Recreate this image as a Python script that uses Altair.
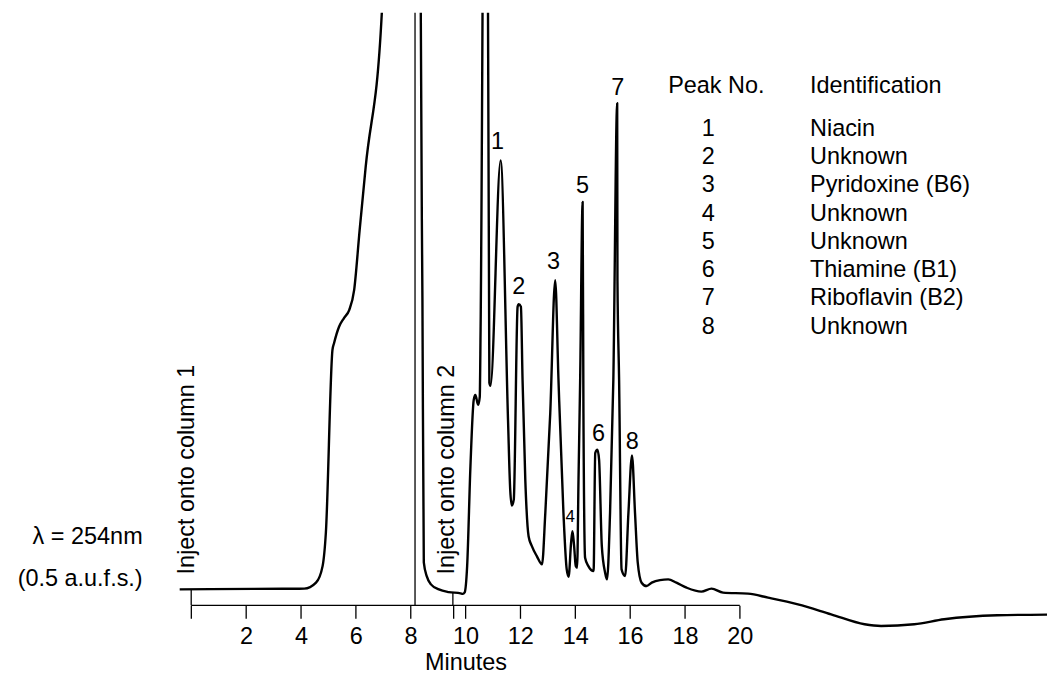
import altair as alt
import pandas as pd

# ---------------- data ----------------
# retention time (minutes) and detector response (arbitrary units, baseline = 0)
time_min = [-0.42, 2.30, 4.12, 4.55, 4.79, 4.91, 5.15, 5.21, 5.39, 5.57, 5.76, 5.94, 6.14, 6.36,
            6.95, 7.60, 8.30, 8.37, 8.43, 8.48, 8.59, 8.74, 9.03, 9.39, 9.82, 9.90, 9.97,
            10.06, 10.18, 10.30, 10.36, 10.46, 10.52, 10.55, 10.75, 10.87, 10.91,
            11.28, 11.55, 11.63, 11.69, 11.76, 11.90, 11.94, 12.02, 12.08, 12.18, 12.30,
            12.42, 12.60, 12.79, 12.91, 13.09, 13.27, 13.39, 13.57, 13.69, 13.76, 13.85,
            13.90, 13.96, 14.02, 14.07, 14.12, 14.18, 14.27, 14.30, 14.36, 14.48, 14.67,
            14.73, 14.81, 14.87, 14.97, 15.09, 15.16, 15.27, 15.39, 15.53, 15.54, 15.60,
            15.69, 15.82, 15.94, 16.07, 16.18, 16.28, 16.42, 16.60, 16.79, 17.09, 17.39,
            17.69, 18.06, 18.60, 18.97, 19.39, 20.30, 21.03, 22.12, 23.33, 24.55, 25.15,
            26.36, 27.45, 29.39, 31.21]
response = [0, 0.5, 0.7, 6.7, 23.3, 57, 240, 247, 263.3, 272, 280, 300, 360, 423.3,
            578.3, 1400, 3000, 578, 290, 27, 13, 5, 0, -2.7, -4, -4.5, -3,
            23.3, 123.3, 190, 195, 185, 193, 260, 1100, 207, 204,
            430, 170, 100, 84, 90, 283.3, 286, 283.3, 210, 110, 53.3,
            43.3, 33.3, 25, 76.7, 176.7, 310, 210, 77, 20, 12.7, 47,
            58.3, 43.3, 23.3, 21.7, 110, 210, 388.3, 177, 31.7, 23.3, 18.3,
            136.7, 140, 130, 43.3, 16.7, 10, 76.7, 210, 487.3, 310, 210,
            20, 13.3, 76.7, 134.3, 76.7, 26.7, 6.7, 3.3, 6.7, 9.3, 10,
            6.7, 1.7, -2.3, 0.7, -3.3, -4.3, -8.3, -15, -25, -35, -36.7,
            -35, -30, -26, -25.3]

peak_no = ["1", "2", "3", "4", "5", "6", "7", "8"]
identification = ["Niacin", "Unknown", "Pyridoxine (B6)", "Unknown", "Unknown",
                  "Thiamine (B1)", "Riboflavin (B2)", "Unknown"]
peak_label_time = [11.17, 11.94, 13.21, 13.82, 14.27, 14.85, 15.55, 16.08]
peak_label_resp = [448.3, 302.7, 328.3, 72.7, 404.3, 156, 502.7, 147.7]

tick_values = [0, 2, 4, 6, 8, 10, 12, 14, 16, 18, 20]
inject_col1 = 0.0
inject_col2 = 9.54
switch_line = 8.16

# ---------------- layout ----------------
FONT = "Liberation Sans"
FS = 23.5
X_MIN, X_MAX = -0.45, 31.2
Y_MIN, Y_MAX = -40, 578
AXIS_Y = -16
PX_PER_MIN = 27.5
W = (X_MAX - X_MIN) * PX_PER_MIN
H = Y_MAX - Y_MIN

x_scale = alt.Scale(domain=[X_MIN, X_MAX], nice=False, zero=False)
y_scale = alt.Scale(domain=[Y_MIN, Y_MAX], nice=False, zero=False)

x_axis = alt.Axis(
    values=tick_values + [inject_col2], title="Minutes", domain=False, grid=False,
    tickSize=13, tickWidth=1.3, tickColor="black",
    labelFont=FONT, labelFontSize=FS, labelColor="black", labelPadding=6,
    labelExpr="datum.value == 0 || (datum.value > 9 && datum.value < 10) ? '' : format(datum.value, 'd')",
    labelOverlap=False, labelFlush=False, offset=-24,
    titleFont=FONT, titleFontSize=FS, titleFontWeight="normal", titleColor="black",
    titleX=(10 - X_MIN) * PX_PER_MIN, titleY=64, titleBaseline="alphabetic", titleAlign="center",
)


def X(field, **kw):
    return alt.X(field, type="quantitative", scale=x_scale, axis=x_axis, **kw)


def Y(field, **kw):
    return alt.Y(field, type="quantitative", scale=y_scale, axis=None, **kw)


trace = pd.DataFrame({"t": time_min, "r": response})
line = alt.Chart(trace).mark_line(color="black", strokeWidth=2.4, clip=True,
                                  interpolate="monotone", strokeJoin="round").encode(
    x=X("t"), y=Y("r"), order="t:Q")

axis_line_df = pd.DataFrame({"t0": [0], "t1": [20], "r": [AXIS_Y]})
axis_line = alt.Chart(axis_line_df).mark_rule(color="black", strokeWidth=1.3).encode(
    x=X("t0"), x2="t1", y=Y("r"))

markers_df = pd.DataFrame({"t": [inject_col1, switch_line, inject_col2],
                           "r0": [AXIS_Y, AXIS_Y, AXIS_Y],
                           "r1": [0, Y_MAX, -3],
                           "w": [1.3, 1.2, 1.3]})
markers = alt.Chart(markers_df).mark_rule(color="black", strokeWidth=1.3).encode(
    x=X("t"), y=Y("r0"), y2="r1")

inject_df = pd.DataFrame({"t": [0.12, 9.57], "r": [15, 15],
                          "txt": ["Inject onto column 1", "Inject onto column 2"]})
inject_text = alt.Chart(inject_df).mark_text(angle=270, align="left", baseline="alphabetic",
                                             font=FONT, fontSize=FS, color="black").encode(
    x=X("t"), y=Y("r"), text="txt:N")

peaks_df = pd.DataFrame({"t": peak_label_time, "r": peak_label_resp, "txt": peak_no,
                         "fs": [FS, FS, FS, 17, FS, FS, FS, FS]})
peak_text = alt.Chart(peaks_df).mark_text(align="center", baseline="middle", font=FONT,
                                          color="black").encode(
    x=X("t"), y=Y("r"), text="txt:N",
    size=alt.Size("fs:Q", scale=None, legend=None))

left_df = pd.DataFrame({"t": [-1.77, -1.77], "r": [45, 3],
                        "txt": ["λ = 254nm", "(0.5  a.u.f.s.)"]})
left_text = alt.Chart(left_df).mark_text(align="right", baseline="alphabetic", font=FONT,
                                         fontSize=FS, color="black").encode(
    x=X("t"), y=Y("r"), text="txt:N")

row_resp = [462 - 28.4 * i for i in range(8)]
legend_df = pd.DataFrame({"no": peak_no, "name": identification, "r": row_resp})
legend_no = alt.Chart(legend_df).mark_text(align="center", baseline="middle", font=FONT,
                                           fontSize=FS, color="black").encode(
    x=X("t", ), y=Y("r"), text="no:N").transform_calculate(t="18.85")
legend_name = alt.Chart(legend_df).mark_text(align="left", baseline="middle", font=FONT,
                                             fontSize=FS, color="black").encode(
    x=X("t"), y=Y("r"), text="name:N").transform_calculate(t="22.56")

header_df = pd.DataFrame({"t": [17.39, 22.56], "r": [505, 505],
                          "txt": ["Peak No.", "Identification"]})
header = alt.Chart(header_df).mark_text(align="left", baseline="middle", font=FONT,
                                        fontSize=FS, color="black").encode(
    x=X("t"), y=Y("r"), text="txt:N")

chart = alt.layer(
    line, axis_line, markers, inject_text, peak_text, left_text, legend_no, legend_name, header
).properties(
    width=W, height=H,
    autosize=alt.AutoSizeParams(type="none"),
    padding={"left": 179.3 - 8, "top": 4, "right": 0, "bottom": 44},
    background="white",
).configure_view(stroke=None)

chart.save("out.html", embed_options={"renderer": "svg", "actions": False})
